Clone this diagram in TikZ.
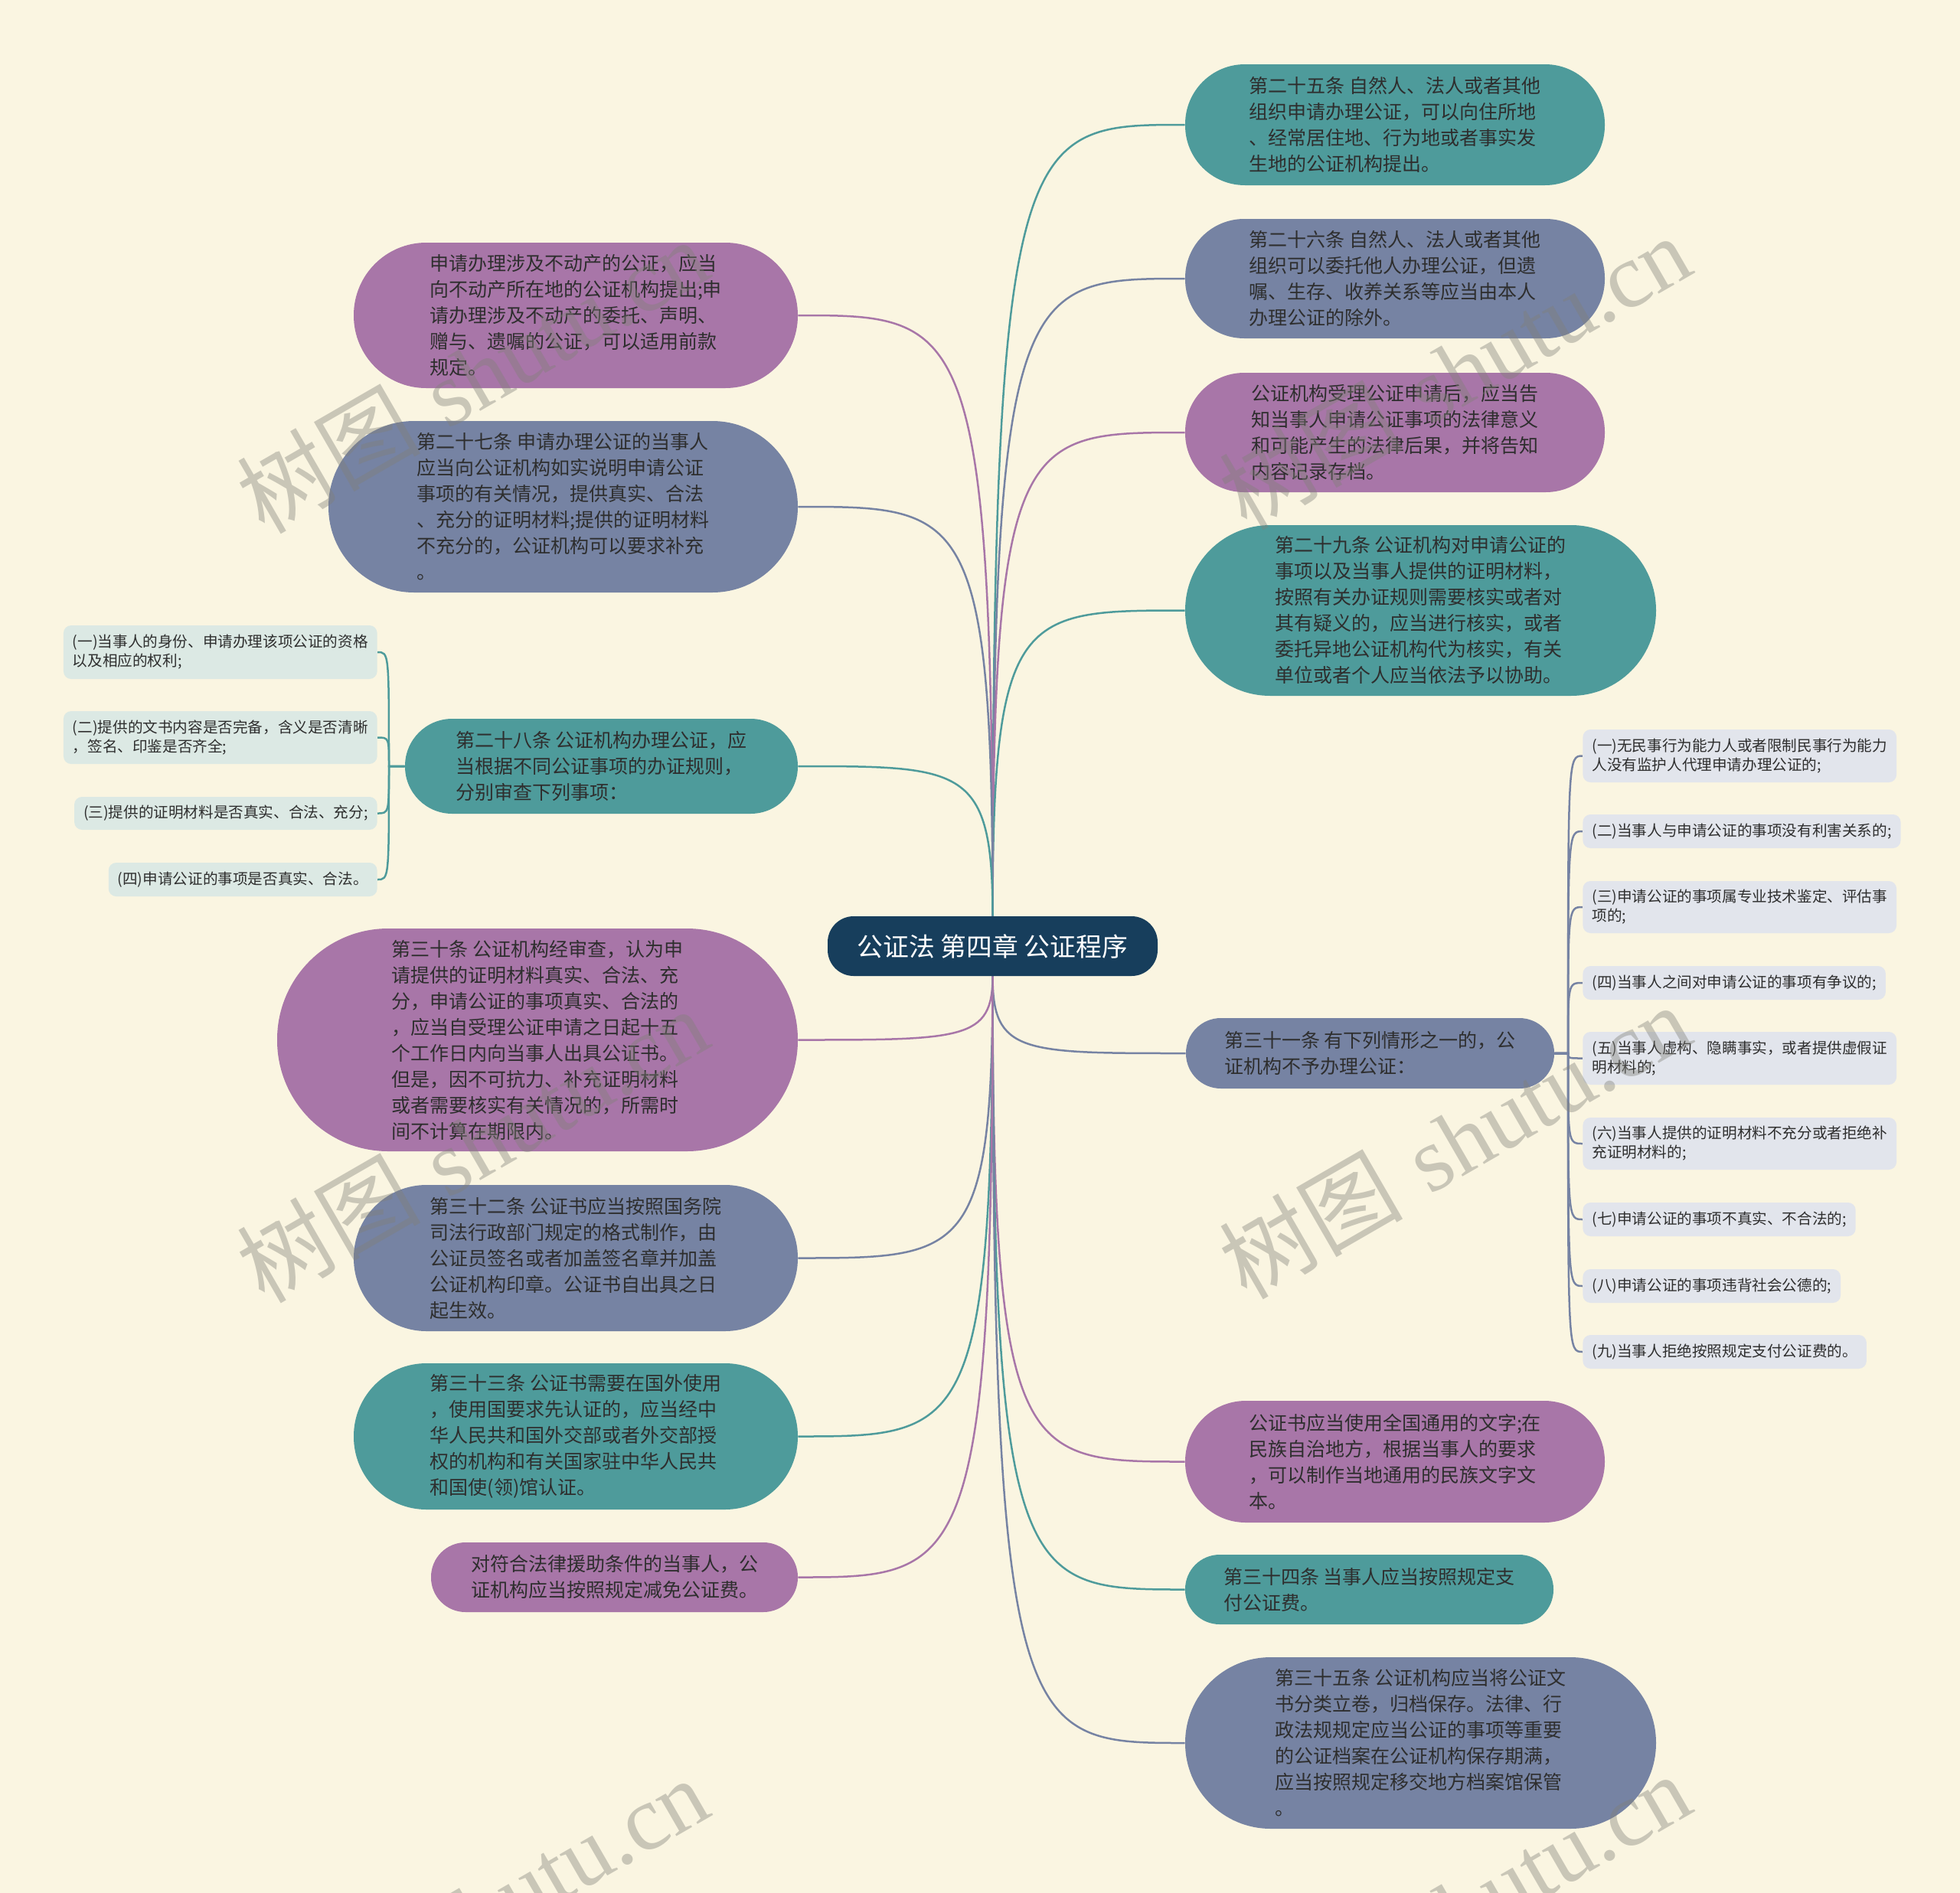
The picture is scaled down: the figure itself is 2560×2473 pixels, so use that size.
\documentclass[tikz,border=0pt]{standalone}
\usepackage{fontspec}
\newfontfamily\cjk{Noto Sans CJK SC}
\newfontfamily\wmserif{Liberation Serif}
\usetikzlibrary{calc}
\definecolor{bgc}{HTML}{FAF5E1}
\definecolor{tealc}{HTML}{4E9B9B}
\definecolor{purc}{HTML}{A876A8}
\definecolor{slac}{HTML}{7683A3}
\definecolor{rootc}{HTML}{173E5C}
\definecolor{txtc}{HTML}{2E2E2E}
\definecolor{lsmall}{HTML}{DCE9E4}
\definecolor{rsmall}{HTML}{E2E5EC}
\definecolor{wmc}{HTML}{808078}
\pgfdeclarelayer{bgl}\pgfdeclarelayer{edgel}\pgfdeclarelayer{wml}
\pgfsetlayers{bgl,edgel,main,wml}
\newcommand\mmedgeR[3]{\draw[mmedge,#1] (root.#2) .. controls (root.#2 |- #3.west) and ($(root.#2 |- #3.west)!0.15!(#3.west)$) .. (#3.west);}
\newcommand\mmedgeL[3]{\draw[mmedge,#1] (root.#2) .. controls (root.#2 |- #3.east) and ($(root.#2 |- #3.east)!0.15!(#3.east)$) .. (#3.east);}
\begin{document}
\begin{tikzpicture}[x=0.5pt,y=-0.5pt,
  mbox/.style={rectangle, inner sep=0pt, text=txtc, align=left, font=\cjk\fontsize{12.5pt}{17pt}\selectfont},
  sbox/.style={rectangle, inner xsep=6pt, inner ysep=0pt, text=txtc, align=left, rounded corners=5pt, font=\cjk\fontsize{9.8pt}{12.5pt}\selectfont},
  mmedge/.style={line width=1.25pt},
  brk/.style={line width=1.25pt},
  wmark/.style={anchor=base west, rotate=30, text=wmc, text opacity=0.4, inner sep=0pt, font=\fontsize{60pt}{60pt}\selectfont}
]
\useasboundingbox (0,0) rectangle (2560,2473);
\begin{pgfonlayer}{bgl}
\fill[bgc] (0,0) rectangle (2560,2473);
\end{pgfonlayer}

% root
\node[rectangle, fill=rootc, text=white, minimum width=215.5pt, minimum height=39pt, rounded corners=17pt, inner sep=0pt, font=\cjk\fontsize{16.9pt}{20pt}\selectfont] (root) at (1296.5,1236) {公证法 第四章 公证程序};

% right main nodes
\node[mbox, fill=tealc, minimum width=274pt, minimum height=79pt, rounded corners=39pt] (R1) at (1822,163) {第二十五条 自然人、法人或者其他\\组织申请办理公证，可以向住所地\\、经常居住地、行为地或者事实发\\生地的公证机构提出。};
\node[mbox, fill=slac, minimum width=274pt, minimum height=78pt, rounded corners=38.5pt] (R2) at (1822,364) {第二十六条 自然人、法人或者其他\\组织可以委托他人办理公证，但遗\\嘱、生存、收养关系等应当由本人\\办理公证的除外。};
\node[mbox, fill=purc, minimum width=274pt, minimum height=78pt, rounded corners=38.5pt] (R3) at (1822,565) {公证机构受理公证申请后，应当告\\知当事人申请公证事项的法律意义\\和可能产生的法律后果，并将告知\\内容记录存档。};
\node[mbox, fill=tealc, minimum width=307.5pt, minimum height=111.5pt, rounded corners=55.5pt] (R4) at (1855.5,797.5) {第二十九条 公证机构对申请公证的\\事项以及当事人提供的证明材料，\\按照有关办证规则需要核实或者对\\其有疑义的，应当进行核实，或者\\委托异地公证机构代为核实，有关\\单位或者个人应当依法予以协助。};
\node[mbox, fill=slac, minimum width=240.5pt, minimum height=46pt, rounded corners=22.8pt] (R5) at (1789.5,1376) {第三十一条 有下列情形之一的，公\\证机构不予办理公证：};
\node[mbox, fill=purc, minimum width=274pt, minimum height=79.5pt, rounded corners=39.5pt] (R6) at (1822,1909.5) {公证书应当使用全国通用的文字;在\\民族自治地方，根据当事人的要求\\，可以制作当地通用的民族文字文\\本。};
\node[mbox, fill=tealc, minimum width=240.5pt, minimum height=45.5pt, rounded corners=22.5pt] (R7) at (1788.5,2076.5) {第三十四条 当事人应当按照规定支\\付公证费。};
\node[mbox, fill=slac, minimum width=307.5pt, minimum height=112pt, rounded corners=55.8pt] (R8) at (1855.5,2277) {第三十五条 公证机构应当将公证文\\书分类立卷，归档保存。法律、行\\政法规规定应当公证的事项等重要\\的公证档案在公证机构保存期满，\\应当按照规定移交地方档案馆保管\\。};

% left main nodes
\node[mbox, fill=purc, minimum width=290pt, minimum height=95pt, rounded corners=47.3pt] (L1) at (752,412) {申请办理涉及不动产的公证，应当\\向不动产所在地的公证机构提出;申\\请办理涉及不动产的委托、声明、\\赠与、遗嘱的公证，可以适用前款\\规定。};
\node[mbox, fill=slac, minimum width=306.5pt, minimum height=112pt, rounded corners=55.8pt] (L2) at (735.5,662) {第二十七条 申请办理公证的当事人\\应当向公证机构如实说明申请公证\\事项的有关情况，提供真实、合法\\、充分的证明材料;提供的证明材料\\不充分的，公证机构可以要求补充\\。};
\node[mbox, fill=tealc, minimum width=256.5pt, minimum height=62pt, rounded corners=30.8pt] (L3) at (785.5,1001) {第二十八条 公证机构办理公证，应\\当根据不同公证事项的办证规则，\\分别审查下列事项：};
\node[mbox, fill=purc, minimum width=340pt, minimum height=145.5pt, rounded corners=72.5pt] (L4) at (702,1358.5) {第三十条 公证机构经审查，认为申\\请提供的证明材料真实、合法、充\\分，申请公证的事项真实、合法的\\，应当自受理公证申请之日起十五\\个工作日内向当事人出具公证书。\\但是，因不可抗力、补充证明材料\\或者需要核实有关情况的，所需时\\间不计算在期限内。};
\node[mbox, fill=slac, minimum width=290pt, minimum height=95.5pt, rounded corners=47.5pt] (L5) at (752,1643.5) {第三十二条 公证书应当按照国务院\\司法行政部门规定的格式制作，由\\公证员签名或者加盖签名章并加盖\\公证机构印章。公证书自出具之日\\起生效。};
\node[mbox, fill=tealc, minimum width=290pt, minimum height=95.5pt, rounded corners=47.5pt] (L6) at (752,1876.5) {第三十三条 公证书需要在国外使用\\，使用国要求先认证的，应当经中\\华人民共和国外交部或者外交部授\\权的机构和有关国家驻中华人民共\\和国使(领)馆认证。};
\node[mbox, fill=purc, minimum width=239.5pt, minimum height=45.5pt, rounded corners=22.5pt] (L7) at (802.5,2060.5) {对符合法律援助条件的当事人，公\\证机构应当按照规定减免公证费。};

% left small nodes
\node[sbox, fill=lsmall, anchor=east, minimum height=35pt] (a1) at (493,852) {(一)当事人的身份、申请办理该项公证的资格\\以及相应的权利;};
\node[sbox, fill=lsmall, anchor=east, minimum height=34.5pt] (a2) at (493,963.5) {(二)提供的文书内容是否完备，含义是否清晰\\，签名、印鉴是否齐全;};
\node[sbox, fill=lsmall, anchor=east, minimum height=21.5pt] (a3) at (493,1062.5) {(三)提供的证明材料是否真实、合法、充分;};
\node[sbox, fill=lsmall, anchor=east, minimum height=22pt] (a4) at (493,1149) {(四)申请公证的事项是否真实、合法。};

% right small nodes
\node[sbox, fill=rsmall, anchor=west, minimum height=34.5pt] (b1) at (2067,987.5) {(一)无民事行为能力人或者限制民事行为能力\\人没有监护人代理申请办理公证的;};
\node[sbox, fill=rsmall, anchor=west, minimum height=22pt] (b2) at (2067,1086) {(二)当事人与申请公证的事项没有利害关系的;};
\node[sbox, fill=rsmall, anchor=west, minimum height=34pt] (b3) at (2067,1185) {(三)申请公证的事项属专业技术鉴定、评估事\\项的;};
\node[sbox, fill=rsmall, anchor=west, minimum height=22pt] (b4) at (2067,1284) {(四)当事人之间对申请公证的事项有争议的;};
\node[sbox, fill=rsmall, anchor=west, minimum height=34.5pt] (b5) at (2067,1382.5) {(五)当事人虚构、隐瞒事实，或者提供虚假证\\明材料的;};
\node[sbox, fill=rsmall, anchor=west, minimum height=34pt] (b6) at (2067,1494) {(六)当事人提供的证明材料不充分或者拒绝补\\充证明材料的;};
\node[sbox, fill=rsmall, anchor=west, minimum height=22pt] (b7) at (2067,1593) {(七)申请公证的事项不真实、不合法的;};
\node[sbox, fill=rsmall, anchor=west, minimum height=22pt] (b8) at (2067,1680) {(八)申请公证的事项违背社会公德的;};
\node[sbox, fill=rsmall, anchor=west, minimum height=22pt] (b9) at (2067,1766) {(九)当事人拒绝按照规定支付公证费的。};

\coordinate (lsp) at (508,1001);
\coordinate (rsp) at (2048,1376);

\begin{pgfonlayer}{edgel}
\mmedgeR{tealc}{north}{R1}
\mmedgeR{slac}{north}{R2}
\mmedgeR{purc}{north}{R3}
\mmedgeR{tealc}{north}{R4}
\mmedgeR{slac}{south}{R5}
\mmedgeR{purc}{south}{R6}
\mmedgeR{tealc}{south}{R7}
\mmedgeR{slac}{south}{R8}
\mmedgeL{purc}{north}{L1}
\mmedgeL{slac}{north}{L2}
\mmedgeL{tealc}{north}{L3}
\mmedgeL{purc}{south}{L4}
\mmedgeL{slac}{south}{L5}
\mmedgeL{tealc}{south}{L6}
\mmedgeL{purc}{south}{L7}
\foreach \c in {a1,a2,a3,a4}{
  \draw[brk,tealc] (L3.west) -- (lsp) .. controls (lsp |- \c.east) .. (\c.east);
}
\foreach \c in {b1,b2,b3,b4,b5,b6,b7,b8,b9}{
  \draw[brk,slac] (R5.east) -- (rsp) .. controls (rsp |- \c.west) .. (\c.west);
}
\end{pgfonlayer}

\begin{pgfonlayer}{wml}
\node[wmark] (w1) at (345,700) {{\cjk 树图} {\wmserif shutu.cn}};
\node[wmark] (w2) at (1628,695) {{\cjk 树图} {\wmserif shutu.cn}};
\node[wmark] (w3) at (345,1705) {{\cjk 树图} {\wmserif shutu.cn}};
\node[wmark] (w4) at (1628,1700) {{\cjk 树图} {\wmserif shutu.cn}};
\node[wmark] (w5) at (345,2710) {{\cjk 树图} {\wmserif shutu.cn}};
\node[wmark] (w6) at (1628,2705) {{\cjk 树图} {\wmserif shutu.cn}};
\end{pgfonlayer}
\end{tikzpicture}
\end{document}
